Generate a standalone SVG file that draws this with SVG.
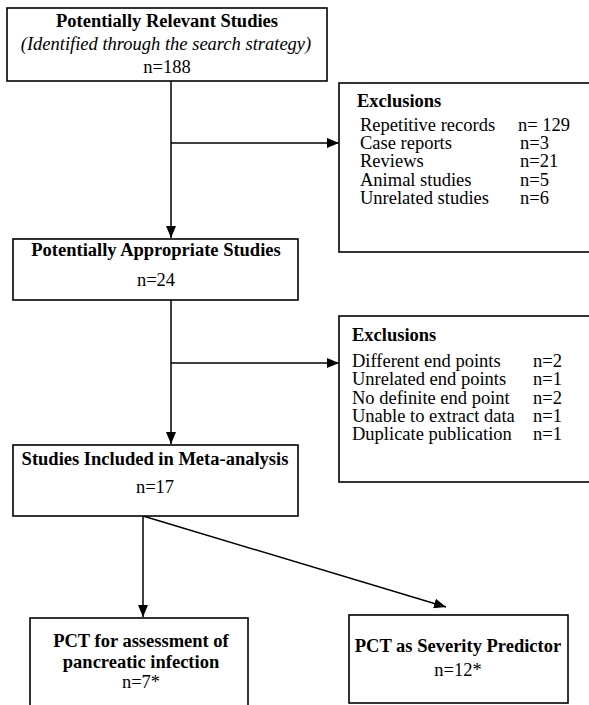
<svg xmlns="http://www.w3.org/2000/svg" width="589" height="705" viewBox="0 0 589 705">
<defs>
<marker id="ah" markerWidth="12" markerHeight="10" refX="12" refY="5" orient="auto" markerUnits="userSpaceOnUse">
<path d="M0,0 L12,5 L0,10 Z" fill="#000"/>
</marker>
<style>
.box{fill:#fff;stroke:#000;stroke-width:1.6}
.t{font-family:"Liberation Serif","Times New Roman",serif;font-size:18.5px;fill:#000}
.b{font-weight:bold}
.i{font-style:italic}
.c{text-anchor:middle}
.ln{fill:none;stroke:#000;stroke-width:1.5}
</style>
</defs>
<rect width="589" height="705" fill="#fff"/>
<g id="connectors">
<line class="ln" x1="171" y1="81" x2="171" y2="238" marker-end="url(#ah)"/>
<line class="ln" x1="171" y1="143" x2="339" y2="143" marker-end="url(#ah)"/>
<line class="ln" x1="171" y1="300" x2="171" y2="444" marker-end="url(#ah)"/>
<line class="ln" x1="171" y1="363" x2="339" y2="363" marker-end="url(#ah)"/>
<line class="ln" x1="143" y1="516" x2="143" y2="617" marker-end="url(#ah)"/>
<line class="ln" x1="143" y1="516" x2="446" y2="607" marker-end="url(#ah)"/>
</g>
<g id="relevant">
<rect class="box" x="7" y="8" width="320" height="73"/>
<text class="t b c" x="167" y="27">Potentially Relevant Studies</text>
<text class="t i c" x="166" y="50">(Identified through the search strategy)</text>
<text class="t c" x="167" y="73">n=188</text>
</g>
<g id="exclusions1">
<rect class="box" x="339" y="83" width="260" height="169"/>
<text class="t b" x="357" y="107">Exclusions</text>
<text class="t" x="360" y="131">Repetitive records</text><text class="t" x="518" y="131">n= 129</text>
<text class="t" x="360" y="149">Case reports</text><text class="t" x="520" y="149">n=3</text>
<text class="t" x="360" y="167">Reviews</text><text class="t" x="520" y="167">n=21</text>
<text class="t" x="360" y="186">Animal studies</text><text class="t" x="520" y="186">n=5</text>
<text class="t" x="360" y="204">Unrelated studies</text><text class="t" x="520" y="204">n=6</text>
</g>
<g id="appropriate">
<rect class="box" x="13" y="239" width="285" height="61"/>
<text class="t b c" x="156" y="256">Potentially Appropriate Studies</text>
<text class="t c" x="156" y="286">n=24</text>
</g>
<g id="exclusions2">
<rect class="box" x="339" y="316" width="260" height="166"/>
<text class="t b" x="352" y="341">Exclusions</text>
<text class="t" x="352" y="367">Different end points</text><text class="t" x="533" y="367">n=2</text>
<text class="t" x="352" y="385">Unrelated end points</text><text class="t" x="533" y="385">n=1</text>
<text class="t" x="352" y="404">No definite end point</text><text class="t" x="533" y="404">n=2</text>
<text class="t" x="352" y="422">Unable to extract data</text><text class="t" x="533" y="422">n=1</text>
<text class="t" x="352" y="440">Duplicate publication</text><text class="t" x="533" y="440">n=1</text>
</g>
<g id="included">
<rect class="box" x="13" y="445" width="285" height="71"/>
<text class="t b c" x="155" y="465">Studies Included in Meta-analysis</text>
<text class="t c" x="155" y="493">n=17</text>
</g>
<g id="infection">
<rect class="box" x="30" y="618" width="218" height="100"/>
<text class="t b c" x="141" y="647">PCT for assessment of</text>
<text class="t b c" x="141" y="668">pancreatic infection</text>
<text class="t c" x="141" y="688">n=7*</text>
</g>
<g id="severity">
<rect class="box" x="349" y="615" width="219" height="88"/>
<text class="t b c" x="458" y="652">PCT as Severity Predictor</text>
<text class="t c" x="458" y="676">n=12*</text>
</g>
</svg>
